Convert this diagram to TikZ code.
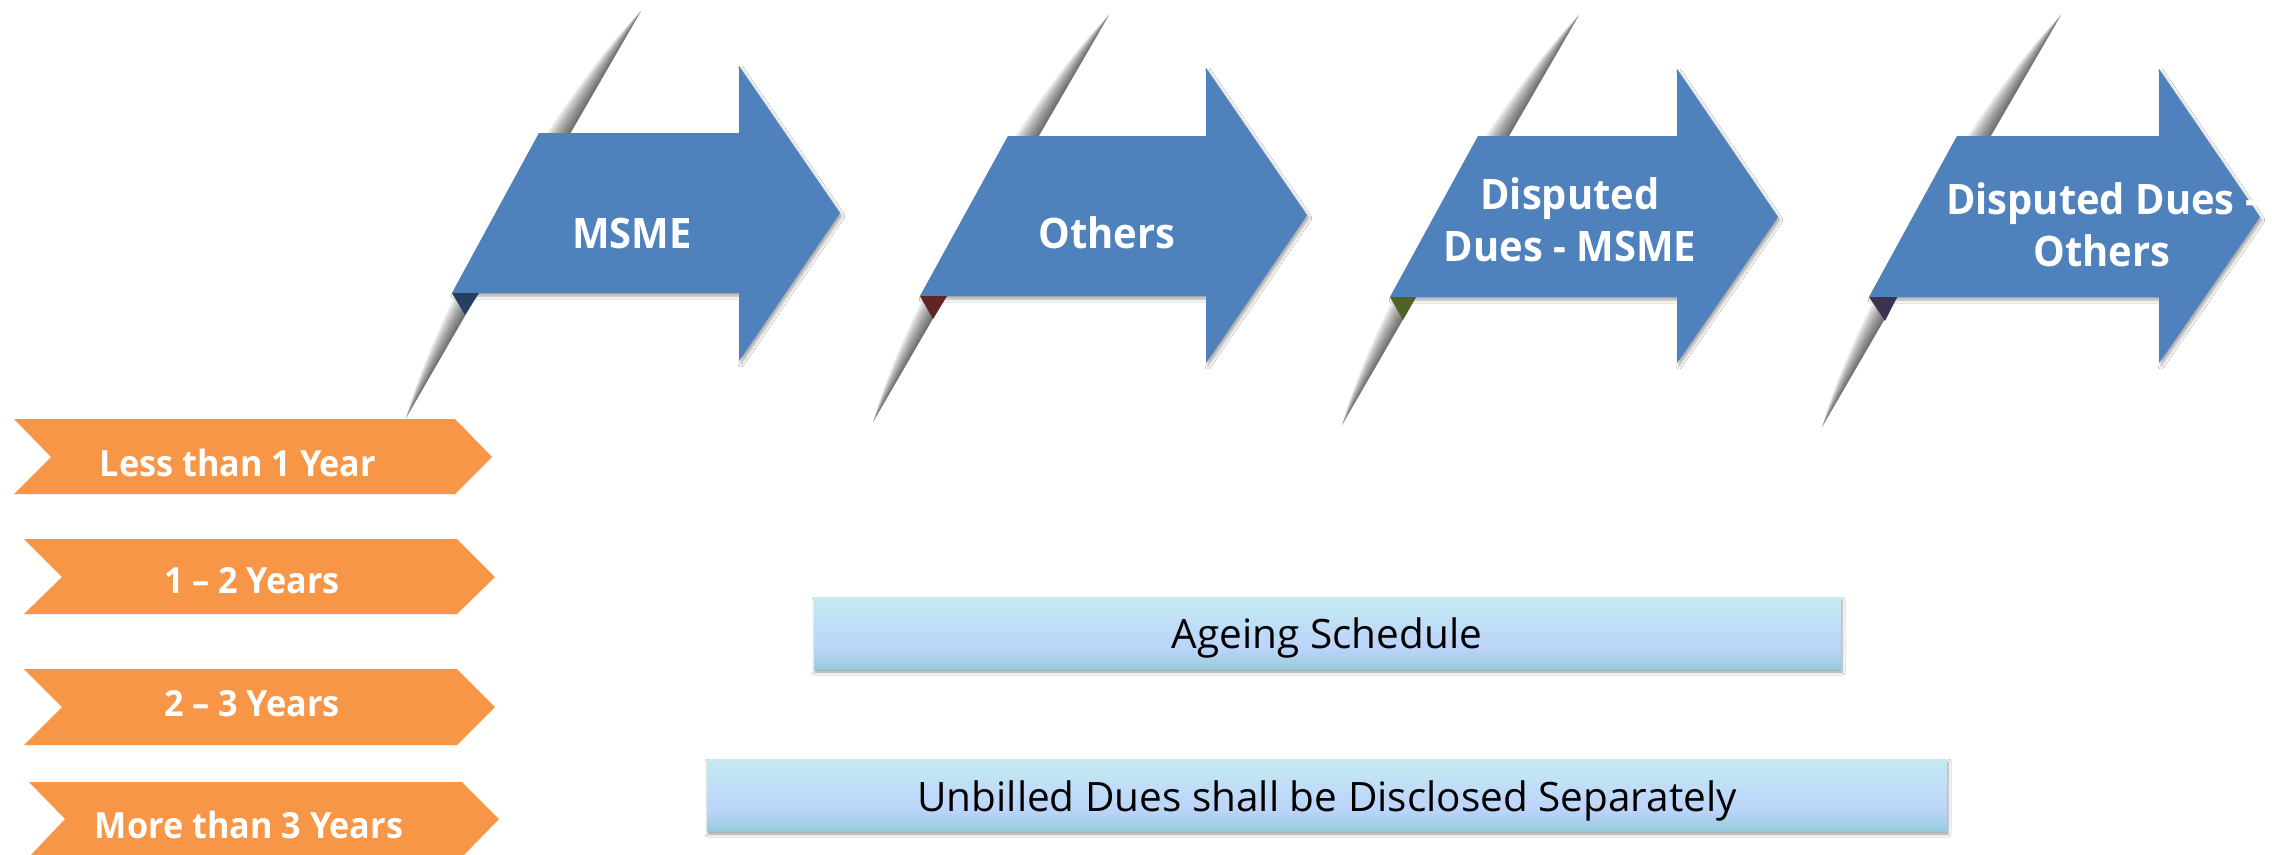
\documentclass[tikz,border=0pt]{standalone}
\usepackage{fontspec}
\setmainfont{Open Sans}
\newfontfamily\narrowsans{Open Sans}[FakeStretch=0.95]
\usetikzlibrary{calc,shadows.blur}

\definecolor{accblue}{HTML}{4F81BD}
\definecolor{accorange}{HTML}{F79646}
\definecolor{tipnavy}{HTML}{243F60}
\definecolor{tipred}{HTML}{632523}
\definecolor{tipgreen}{HTML}{4F6228}
\definecolor{tippurple}{HTML}{3F3151}
\definecolor{nbot}{RGB}{146,204,218}
\definecolor{nlow}{RGB}{170,208,236}
\definecolor{nmid}{RGB}{188,212,250}
\definecolor{nmidb}{RGB}{190,219,248}
\definecolor{ntop}{RGB}{197,236,240}

% soft vertical gradient of the two note bars
\pgfdeclareverticalshading{notegrad}{100bp}{%
  color(0bp)=(nbot); color(25bp)=(nbot); color(32bp)=(nlow);
  color(40bp)=(nmid); color(52bp)=(nmidb); color(75bp)=(ntop); color(100bp)=(ntop)}

\tikzset{
  arrowfill/.style={fill=accblue,
    blur shadow={shadow xshift=2pt, shadow yshift=-3pt, shadow blur radius=3pt, shadow opacity=35}},
  foldtone/.style={fill=black, fill opacity=0.075},
  chevron/.style={fill=accorange},
  arrowlabel/.style={text=white, inner sep=0pt, anchor=base, align=center,
    font=\narrowsans\bfseries\fontsize{42}{52}\selectfont},
  agelabel/.style={text=white, inner sep=0pt, anchor=base,
    font=\narrowsans\bfseries\fontsize{36}{40}\selectfont},
  notebar/.style={shading=notegrad,
    blur shadow={shadow xshift=1pt, shadow yshift=-3pt, shadow blur radius=3pt, shadow opacity=40}},
  notelabel/.style={text=black, inner sep=0pt, anchor=base,
    font=\fontsize{40.5}{44}\selectfont},
}

\begin{document}
\begin{tikzpicture}[x=1pt,y=-1pt]
\useasboundingbox (0,0) rectangle (2272,854);
\fill[white] (0,0) rectangle (2272,854);

% shaded creases of the folded ribbons
\foreach \i/\tx/\ty/\bx/\by in {1/641/11/406/418, 2/1109/15/873/422,
                                3/1579/15/1342/425, 4/2061/15/1822/427} {
  \coordinate (ft\i) at (\tx,\ty);
  \coordinate (fb\i) at (\bx,\by);
  \foreach \h in {3,6,...,30} {
    \fill[foldtone] (ft\i)
      .. controls ($(ft\i)!0.25!(fb\i)!{\h pt}!-90:(fb\i)$)
      and ($(ft\i)!0.75!(fb\i)!{\h pt}!-90:(fb\i)$) .. (fb\i) -- cycle;
  }
}

% age bands
\fill[chevron] (14,419) -- (455,419) -- (492,457) -- (455,494) -- (14,494) -- (51,457) -- cycle;
\fill[chevron] (24,539) -- (457,539) -- (495,577) -- (457,614) -- (24,614) -- (62,577) -- cycle;
\fill[chevron] (24,669) -- (457,669) -- (495,707) -- (457,745) -- (24,745) -- (62,707) -- cycle;
\fill[chevron] (29,782) -- (462,782) -- (499,819) -- (462,857) -- (29,857) -- (65,819) -- cycle;
\node[agelabel] (age1) at (238,476) {Less than 1 Year};
\node[agelabel] (age2) at (252,593) {1 – 2 Years};
\node[agelabel] (age3) at (252,716) {2 – 3 Years};
\node[agelabel] (age4) at (249,838) {More than 3 Years};

% note bars
\fill[notebar] (814,597) rectangle (1841,669);
\fill[notebar] (707,759) rectangle (1947,831);
\node[notelabel] (note1) at (1327,648) {Ageing Schedule};
\node[notelabel] (note2) at (1327,811) {Unbilled Dues shall be Disclosed Separately};

% category arrows
\fill[arrowfill] (539,133) -- (739,133) -- (739,66) -- (840,213) -- (739,361) -- (739,293) -- (452,293) -- cycle;
\fill[tipnavy] (452,293) -- (479,293) -- (465,315) -- cycle;
\fill[arrowfill] (1008,136) -- (1206,136) -- (1206,68) -- (1307,215) -- (1206,363) -- (1206,296) -- (920,296) -- cycle;
\fill[tipred] (920,296) -- (947,296) -- (933,319) -- cycle;
\fill[arrowfill] (1478,136) -- (1677,136) -- (1677,69) -- (1778,217) -- (1677,363) -- (1677,297) -- (1390,297) -- cycle;
\fill[tipgreen] (1390,297) -- (1416,297) -- (1403,320) -- cycle;
\fill[arrowfill] (1957,136) -- (2159,136) -- (2159,69) -- (2260,217) -- (2159,363) -- (2159,297) -- (1869,297) -- cycle;
\fill[tippurple] (1869,297) -- (1897,297) -- (1885,321) -- cycle;

% labels (multi-line labels sit on the baseline of their last line)
\node[arrowlabel] (cat1) at (632,248) {MSME};
\node[arrowlabel] (cat2) at (1107,248) {Others};
\node[arrowlabel] (cat3) at (1570,261) {Disputed\\Dues - MSME};
\node[arrowlabel] (cat4) at (2102,266) {Disputed Dues -\\Others};
\end{tikzpicture}
\end{document}
